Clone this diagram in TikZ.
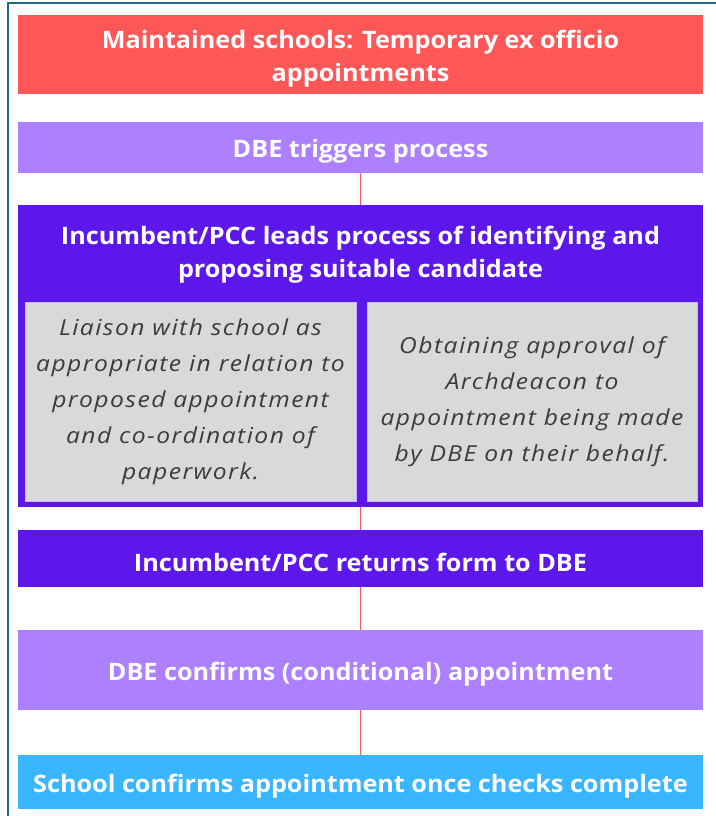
\documentclass[tikz,border=0pt]{standalone}
\usepackage{fontspec}
\setmainfont{Open Sans}
\newfontfamily\barfont[FakeStretch=1.05]{Open Sans}
\newfontfamily\italfont[FakeStretch=1.12, LetterSpace=6.6]{Open Sans}
\definecolor{frameblue}{HTML}{1F6A8A}
\definecolor{boxred}{HTML}{FF5757}
\definecolor{lilac}{HTML}{AC80FF}
\definecolor{violet}{HTML}{5E17EB}
\definecolor{grayfill}{HTML}{D9D9D9}
\definecolor{skyblue}{HTML}{38B6FF}
\definecolor{linkred}{HTML}{FF5757}
\definecolor{italtext}{HTML}{3C3C3C}
\tikzset{
  barbox/.style={minimum width=685pt, inner sep=0pt},
  bartext/.style={inner sep=0pt, text=white, align=center,
    font=\barfont\fontsize{24}{33}\selectfont\bfseries},
  subbox/.style={fill=grayfill, draw=lilac!60, line width=0.8pt, minimum height=199pt,
    inner sep=0pt, text=italtext, align=center, font=\italfont\fontsize{22}{36}\selectfont\itshape},
  link/.style={draw=linkred, line width=1.6pt}
}
\begin{document}
\begin{tikzpicture}[x=1pt,y=-1pt]
\useasboundingbox (0,0) rectangle (715,816);
\draw[frameblue, line width=2pt] (8,816) -- (8,3) -- (716,3);
% boxes
\node[barbox, fill=boxred, minimum height=79pt] (title) at (360.5,54.5) {};
\node[barbox, fill=lilac, minimum height=51pt] (trigger) at (360.5,147.5) {};
\node[barbox, fill=violet, minimum height=302pt] (lead) at (360.5,356) {};
\node[barbox, fill=violet, minimum height=57pt] (returns) at (360.5,558.5) {};
\node[barbox, fill=lilac, minimum height=80pt] (confirms) at (360.5,670) {};
\node[barbox, fill=skyblue, minimum height=54pt] (school) at (360.5,782) {};
% texts
\node[bartext] (titletext) at (360.5,59) {Maintained schools: Temporary ex officio\\appointments};
\node[bartext] (triggertext) at (360.5,151) {DBE triggers process};
\node[bartext] (leadtext) at (360.5,254.5) {Incumbent/PCC leads process of identifying and\\proposing suitable candidate};
\node[bartext] (returnstext) at (360.5,562) {Incumbent/PCC returns form to DBE};
\node[bartext] (confirmstext) at (360.5,674) {DBE confirms (conditional) appointment};
\node[bartext] (schooltext) at (360.5,786) {School confirms appointment once checks complete};
% inner boxes
\node[subbox, minimum width=331pt] (liaison) at (190.5,401.5) {Liaison with school as\\appropriate in relation to\\proposed appointment\\and co-ordination of\\paperwork.};
\node[subbox, minimum width=330pt] (approval) at (532,401.5) {Obtaining approval of\\Archdeacon to\\appointment being made\\by DBE on their behalf.};
% connectors
\draw[link] (trigger.south) -- (lead.north);
\draw[link] (lead.south) -- (returns.north);
\draw[link] (returns.south) -- (confirms.north);
\draw[link] (confirms.south) -- (school.north);
\end{tikzpicture}
\end{document}
